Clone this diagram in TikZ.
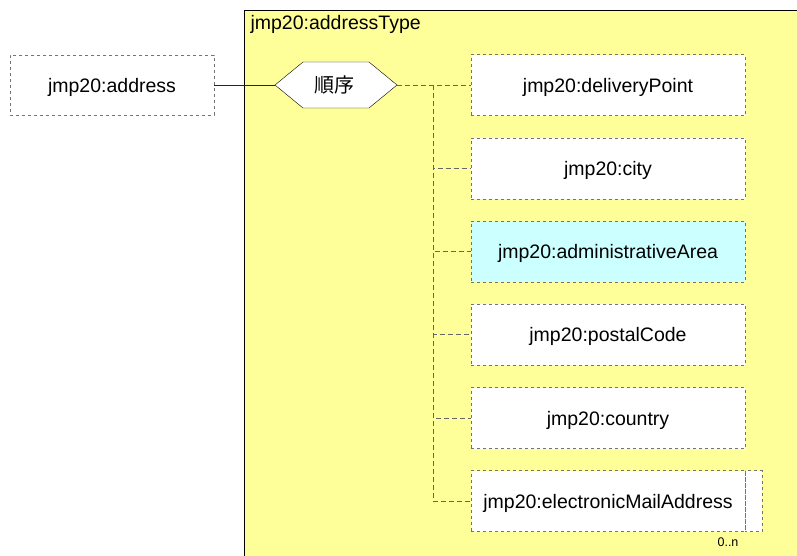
\documentclass[tikz,border=0pt]{standalone}
\usepackage{fontspec}
\setmainfont{Liberation Sans}
\newfontfamily\cjk{Noto Sans CJK JP}
\begin{document}
\begin{tikzpicture}[x=1pt,y=-1pt,
  elem/.style={draw=gray!90!black, dashed, fill=white, minimum width=274pt, minimum height=61pt, inner sep=0pt, text height=15pt, text depth=1pt, font=\fontsize{19.5}{21}\selectfont},
  conn/.style={draw=gray!80!black, dashed, dash pattern=on 5pt off 3pt},
  lbl/.style={font=\fontsize{19.5}{21}\selectfont}
]
\useasboundingbox (0,0) rectangle (797,555);
\fill[fill={rgb,255:red,255;green,255;blue,153}] (244,10) rectangle (798,556);
\draw[black] (798,10) -- (244,10) -- (244,556);
\node[lbl, anchor=base west] (title) at (247,29) {jmp20:addressType};

\node[elem, minimum width=204pt, minimum height=60pt] (addr) at (112,85) {jmp20:address};

\coordinate (hl) at (275,85);
\coordinate (hr) at (397,85);
\draw[black, fill=white] (hl) -- (303,62) -- (369,62) -- (hr) -- (369,108) -- (303,108) -- cycle;
\node[font=\cjk\fontsize{20}{22}\selectfont] (seq) at (334,85) {順序};

\draw[gray!30!black] (addr.east) -- (hl);

\node[elem] (c1) at (608,85) {jmp20:deliveryPoint};
\node[elem] (c2) at (608,168.5) {jmp20:city};
\node[elem, fill={rgb,255:red,204;green,255;blue,255}] (c3) at (608,251.5) {jmp20:administrativeArea};
\node[elem] (c4) at (608,334.5) {jmp20:postalCode};
\node[elem] (c5) at (608,418) {jmp20:country};
\draw[gray!90!black, dashed, fill=white] (745,470.5) rectangle (762,531.5);
\node[elem] (c6) at (608,501) {jmp20:electronicMailAddress};
\node[font=\fontsize{12.5}{14}\selectfont] (card) at (728,542) {0..n};

\coordinate (j) at (433,85);
\draw[conn] (hr) -- (c1.west);
\draw[conn] (j) |- (c2.west);
\draw[conn] (j) |- (c3.west);
\draw[conn] (j) |- (c4.west);
\draw[conn] (j) |- (c5.west);
\draw[conn] (j) |- (c6.west);
\end{tikzpicture}
\end{document}
